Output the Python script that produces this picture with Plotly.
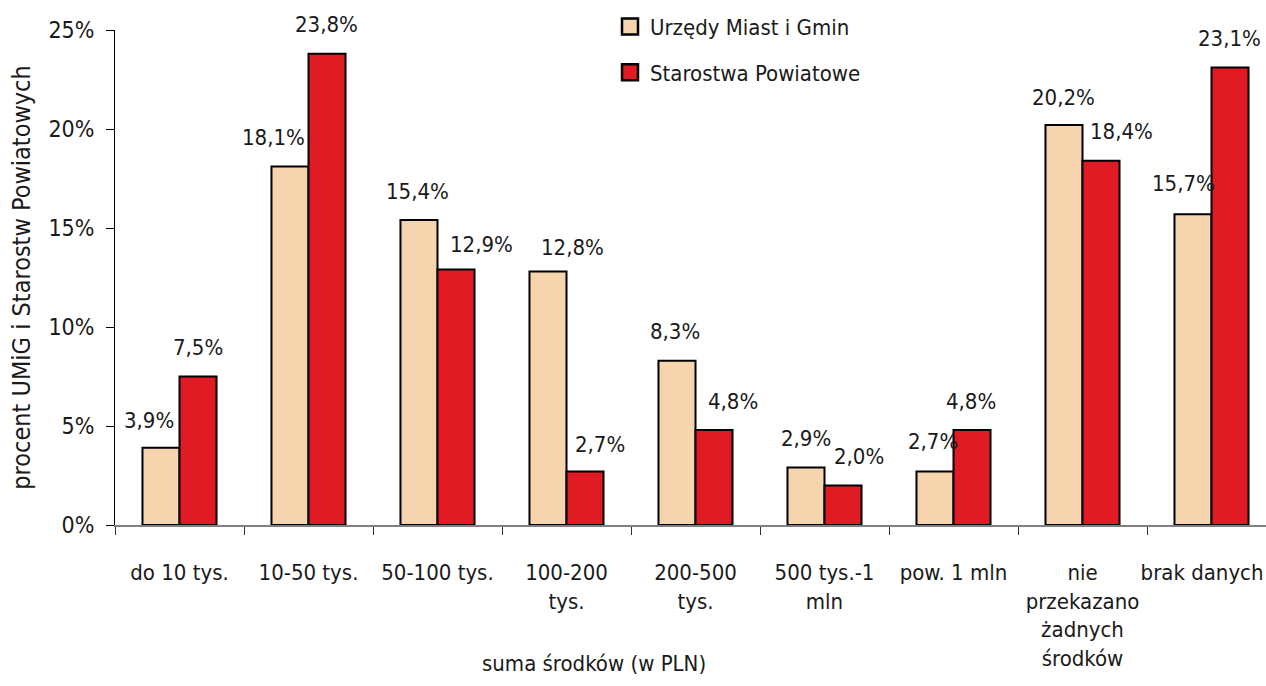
import plotly.graph_objects as go

categories = ["do 10 tys.", "10-50 tys.", "50-100 tys.", "100-200<br>tys.", "200-500<br>tys.",
              "500 tys.-1<br>mln", "pow. 1 mln", "nie<br>przekazano<br>żadnych<br>środków", "brak danych"]
umig = [3.9, 18.1, 15.4, 12.8, 8.3, 2.9, 2.7, 20.2, 15.7]
starostwa = [7.5, 23.8, 12.9, 2.7, 4.8, 2.0, 4.8, 18.4, 23.1]
series_names = ["Urzędy Miast i Gmin", "Starostwa Powiatowe"]
y_ticks = [0, 5, 10, 15, 20, 25]

# label placement tweaks (pixels)
umig_dx = [-12, -17, -2, 24, -2, 0, -2, -1, -10]
umig_dy = [27, 29, 29, 24, 29, 29, 30, 28, 31]
star_dx = [0, -1, 25, 15, 19, 16, -1, 20, -1]
star_dy = [29, 29, 25, 27, 28, 29, 28, 29, 29]

FONT = "DejaVu Sans Condensed, Open Sans, sans-serif"
FS = 22
TXT = "#1a1a1a"
C1 = "#F5D4AE"
C2 = "#E11B24"

# last label sits against the right edge in the original; pad it so it stays inside the window
tick_text = categories[:-1] + [categories[-1] + "\u00a0" * 3]

fig = go.Figure()
fig.add_bar(x=categories, y=umig, name=series_names[0], showlegend=False,
            marker=dict(color=C1, line=dict(color="black", width=2)))
fig.add_bar(x=categories, y=starostwa, name=series_names[1], showlegend=False,
            marker=dict(color=C2, line=dict(color="black", width=2)))

# legend entries
for nm, col, grp in [(series_names[0], C1, "a"), (series_names[1], C2, "b")]:
    fig.add_scatter(x=[None], y=[None], mode="markers", name=nm, legendgroup=grp,
                    marker=dict(symbol="square", size=16, color=col, line=dict(color="black", width=2.5)))

def fmt(v):
    return f"{v:.1f}".replace(".", ",") + "%"

tf = dict(family=FONT, size=FS, color=TXT)
ann = []
for i, c in enumerate(categories):
    ann.append(dict(x=c, y=umig[i], xref="x", yref="y", text=fmt(umig[i]), showarrow=False,
                    xshift=-18.5 + umig_dx[i], yshift=umig_dy[i], yanchor="middle", font=tf))
    ann.append(dict(x=c, y=starostwa[i], xref="x", yref="y", text=fmt(starostwa[i]), showarrow=False,
                    xshift=18.5 + star_dx[i], yshift=star_dy[i], yanchor="middle", font=tf))
ann.append(dict(x=(594 - 115) / 1151, y=(525 - 663) / 495, xref="paper", yref="paper",
                text="suma środków (w PLN)", showarrow=False, yanchor="middle", font=tf))

fig.update_layout(
    width=1266, height=686,
    margin=dict(l=115, r=0, t=30, b=161),
    paper_bgcolor="white", plot_bgcolor="white",
    barmode="group", bargap=0.426, bargroupgap=0,
    font=tf,
    annotations=ann,
    showlegend=True,
    legend=dict(x=(610 - 115) / 1151, y=1.049, xanchor="left", yanchor="top",
                traceorder="grouped", tracegroupgap=14,
                font=tf, bgcolor="rgba(0,0,0,0)"),
    xaxis=dict(type="category", range=[-0.5, -0.5 + 1151 / 129], tickson="boundaries",
               tickvals=categories, ticktext=tick_text,
               ticks="outside", ticklen=8, tickcolor="#333", showline=True, linecolor="#808080",
               linewidth=1.5, showgrid=False, tickangle=0, automargin=False,
               ticklabelstandoff=27, tickfont=tf),
    yaxis=dict(range=[0, 25], tickvals=y_ticks, ticktext=[f"{v}%" for v in y_ticks],
               ticks="outside", ticklen=8, tickcolor="black", showline=True, linecolor="black",
               linewidth=1, showgrid=False, zeroline=False, automargin=False,
               ticklabelstandoff=7, tickfont=dict(family=FONT, size=23, color=TXT),
               title=dict(text="procent UMiG i Starostw Powiatowych",
                          font=dict(family=FONT, size=25, color=TXT), standoff=10)),
)

fig.write_html("out.html", config={"displayModeBar": False},
               post_script="document.body.style.margin='0';document.body.style.overflow='hidden';")
